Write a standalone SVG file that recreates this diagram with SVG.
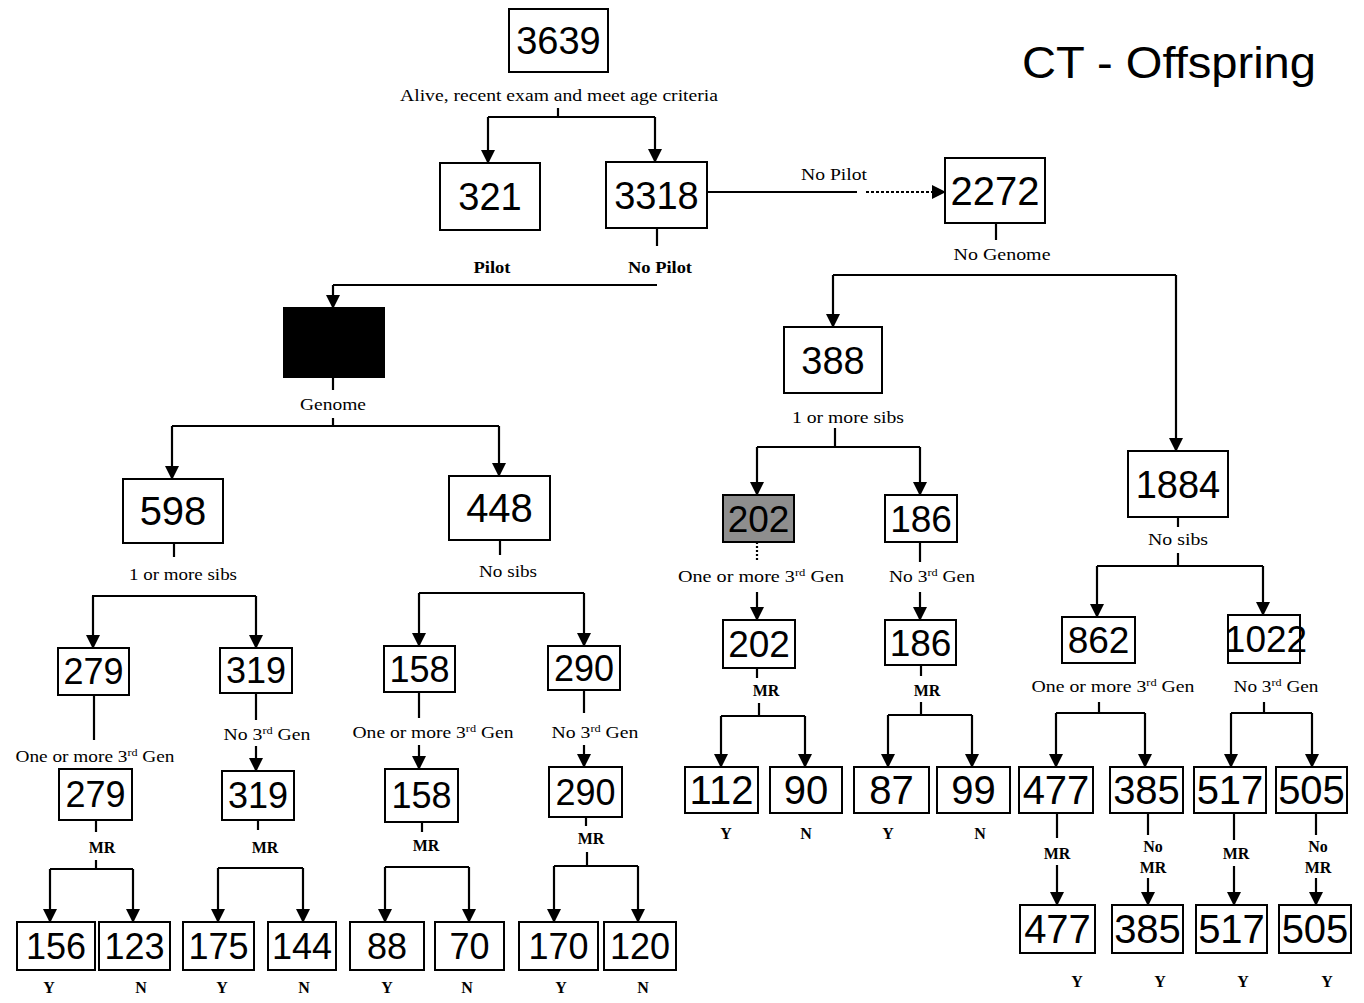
<svg xmlns="http://www.w3.org/2000/svg" width="1364" height="1003" viewBox="0 0 1364 1003">
<style>
.box{fill:#fff;stroke:#000;stroke-width:2}
.num{font-family:"Liberation Sans",Arial,sans-serif;text-anchor:middle;fill:#000}
.f36{font-size:36px}.f38{font-size:38px}.f40{font-size:40px}
.lbl{font-family:"Liberation Serif","Times New Roman",serif;text-anchor:middle;fill:#000;font-size:16px}
.b{font-weight:bold}
.c{stroke:#000;stroke-width:2.2;fill:none}
.a{stroke:#000;stroke-width:2.2;fill:none;marker-end:url(#ah)}
</style>
<defs>
<marker id="ah" markerUnits="userSpaceOnUse" markerWidth="14" markerHeight="14" refX="13" refY="7" orient="auto">
<path d="M0,0 L14,7 L0,14 z" fill="#000"/>
</marker>
</defs>
<rect width="1364" height="1003" fill="#fff"/>
<text x="1022" y="78" font-family="Liberation Sans,Arial,sans-serif" font-size="45" textLength="294" lengthAdjust="spacingAndGlyphs">CT - Offspring</text>

<g id="connectors">
<line class="c" x1="558" y1="108" x2="558" y2="117"/>
<line class="c" x1="488" y1="117" x2="655" y2="117"/>
<line class="a" x1="488" y1="117" x2="488" y2="163"/>
<line class="a" x1="655" y1="117" x2="655" y2="162"/>
<line class="c" x1="707" y1="192" x2="857" y2="192"/>
<line class="a" x1="866" y1="192" x2="945" y2="192" stroke-dasharray="3 2"/>
<line class="c" x1="657" y1="228" x2="657" y2="246"/>
<line class="c" x1="333" y1="285" x2="657" y2="285"/>
<line class="a" x1="333" y1="285" x2="333" y2="308"/>
<line class="c" x1="333" y1="377" x2="333" y2="390"/>
<line class="c" x1="333" y1="418" x2="333" y2="426"/>
<line class="c" x1="172" y1="426" x2="499" y2="426"/>
<line class="a" x1="172" y1="426" x2="172" y2="479"/>
<line class="a" x1="499" y1="426" x2="499" y2="476"/>
<line class="c" x1="174" y1="543" x2="174" y2="557"/>
<line class="c" x1="92" y1="596" x2="256" y2="596"/>
<line class="a" x1="93" y1="596" x2="93" y2="648"/>
<line class="a" x1="256" y1="596" x2="256" y2="648"/>
<line class="c" x1="500" y1="540" x2="500" y2="555"/>
<line class="c" x1="419" y1="593" x2="584" y2="593"/>
<line class="a" x1="419" y1="593" x2="419" y2="646"/>
<line class="a" x1="584" y1="593" x2="584" y2="646"/>
<line class="c" x1="94" y1="695" x2="94" y2="740"/>
<line class="c" x1="256" y1="693" x2="256" y2="720"/>
<line class="a" x1="256" y1="746" x2="256" y2="771"/>
<line class="c" x1="419" y1="692" x2="419" y2="718"/>
<line class="a" x1="419" y1="745" x2="419" y2="769"/>
<line class="c" x1="584" y1="690" x2="584" y2="713"/>
<line class="a" x1="584" y1="745" x2="584" y2="767"/>
<line class="c" x1="96" y1="820" x2="96" y2="832"/>
<line class="c" x1="96" y1="860" x2="96" y2="869"/>
<line class="c" x1="50" y1="869" x2="133" y2="869"/>
<line class="a" x1="50" y1="869" x2="50" y2="922"/>
<line class="a" x1="133" y1="869" x2="133" y2="922"/>
<line class="c" x1="258" y1="820" x2="258" y2="830"/>
<line class="c" x1="218" y1="868" x2="303" y2="868"/>
<line class="a" x1="218" y1="868" x2="218" y2="922"/>
<line class="a" x1="303" y1="868" x2="303" y2="922"/>
<line class="c" x1="422" y1="822" x2="422" y2="832"/>
<line class="c" x1="385" y1="867" x2="469" y2="867"/>
<line class="a" x1="385" y1="867" x2="385" y2="922"/>
<line class="a" x1="469" y1="867" x2="469" y2="922"/>
<line class="c" x1="586" y1="817" x2="586" y2="826"/>
<line class="c" x1="587" y1="852" x2="587" y2="866"/>
<line class="c" x1="554" y1="866" x2="638" y2="866"/>
<line class="a" x1="554" y1="866" x2="554" y2="922"/>
<line class="a" x1="638" y1="866" x2="638" y2="922"/>
<line class="c" x1="996" y1="223" x2="996" y2="240"/>
<line class="c" x1="833" y1="275" x2="1176" y2="275"/>
<line class="a" x1="833" y1="275" x2="833" y2="327"/>
<line class="a" x1="1176" y1="275" x2="1176" y2="451"/>
<line class="c" x1="835" y1="428" x2="835" y2="447"/>
<line class="c" x1="757" y1="447" x2="920" y2="447"/>
<line class="a" x1="757" y1="447" x2="757" y2="495"/>
<line class="a" x1="920" y1="447" x2="920" y2="495"/>
<line class="c" x1="757" y1="542" x2="757" y2="560" stroke-dasharray="2 2"/>
<line class="a" x1="757" y1="592" x2="757" y2="620"/>
<line class="c" x1="920" y1="542" x2="920" y2="562"/>
<line class="a" x1="920" y1="592" x2="920" y2="620"/>
<line class="c" x1="757" y1="668" x2="757" y2="678"/>
<line class="c" x1="759" y1="703" x2="759" y2="716"/>
<line class="c" x1="721" y1="716" x2="805" y2="716"/>
<line class="a" x1="721" y1="716" x2="721" y2="767"/>
<line class="a" x1="805" y1="716" x2="805" y2="767"/>
<line class="c" x1="921" y1="665" x2="921" y2="676"/>
<line class="c" x1="921" y1="702" x2="921" y2="715"/>
<line class="c" x1="888" y1="715" x2="972" y2="715"/>
<line class="a" x1="888" y1="715" x2="888" y2="767"/>
<line class="a" x1="972" y1="715" x2="972" y2="767"/>
<line class="c" x1="1178" y1="517" x2="1178" y2="527"/>
<line class="c" x1="1178" y1="553" x2="1178" y2="566"/>
<line class="c" x1="1097" y1="566" x2="1263" y2="566"/>
<line class="a" x1="1097" y1="566" x2="1097" y2="617"/>
<line class="a" x1="1263" y1="566" x2="1263" y2="615"/>
<line class="c" x1="1099" y1="702" x2="1099" y2="713"/>
<line class="c" x1="1056" y1="713" x2="1145" y2="713"/>
<line class="a" x1="1056" y1="713" x2="1056" y2="767"/>
<line class="a" x1="1145" y1="713" x2="1145" y2="767"/>
<line class="c" x1="1264" y1="702" x2="1264" y2="713"/>
<line class="c" x1="1231" y1="713" x2="1312" y2="713"/>
<line class="a" x1="1231" y1="713" x2="1231" y2="767"/>
<line class="a" x1="1312" y1="713" x2="1312" y2="767"/>
<line class="c" x1="1057" y1="813" x2="1057" y2="838"/>
<line class="a" x1="1057" y1="865" x2="1057" y2="905"/>
<line class="c" x1="1148" y1="813" x2="1148" y2="835"/>
<line class="a" x1="1148" y1="878" x2="1148" y2="905"/>
<line class="c" x1="1234" y1="813" x2="1234" y2="840"/>
<line class="a" x1="1234" y1="866" x2="1234" y2="905"/>
<line class="c" x1="1316" y1="813" x2="1316" y2="835"/>
<line class="a" x1="1316" y1="878" x2="1316" y2="905"/>
</g>

<g id="labels">
<text class="lbl" x="559" y="101" font-size="15" textLength="318" lengthAdjust="spacingAndGlyphs">Alive, recent exam and meet age criteria</text>
<text class="lbl" x="834" y="180" font-size="15" textLength="66" lengthAdjust="spacingAndGlyphs">No Pilot</text>
<text class="lbl b" x="492" y="273" font-size="15" textLength="37" lengthAdjust="spacingAndGlyphs">Pilot</text>
<text class="lbl b" x="660" y="273" font-size="15" textLength="64" lengthAdjust="spacingAndGlyphs">No Pilot</text>
<text class="lbl" x="1002" y="260" textLength="97" lengthAdjust="spacingAndGlyphs">No Genome</text>
<text class="lbl" x="333" y="410" textLength="66" lengthAdjust="spacingAndGlyphs">Genome</text>
<text class="lbl" x="183" y="580" textLength="108" lengthAdjust="spacingAndGlyphs">1 or more sibs</text>
<text class="lbl" x="508" y="577" textLength="58" lengthAdjust="spacingAndGlyphs">No sibs</text>
<text class="lbl" x="848" y="423" textLength="112" lengthAdjust="spacingAndGlyphs">1 or more sibs</text>
<text class="lbl" x="1178" y="545" textLength="60" lengthAdjust="spacingAndGlyphs">No sibs</text>
<text class="lbl" x="95" y="762" textLength="159" lengthAdjust="spacingAndGlyphs">One or more 3<tspan font-size="10" dy="-6">rd</tspan><tspan dy="6"> Gen</tspan></text>
<text class="lbl" x="267" y="740" textLength="87" lengthAdjust="spacingAndGlyphs">No 3<tspan font-size="10" dy="-6">rd</tspan><tspan dy="6"> Gen</tspan></text>
<text class="lbl" x="433" y="738" textLength="161" lengthAdjust="spacingAndGlyphs">One or more 3<tspan font-size="10" dy="-6">rd</tspan><tspan dy="6"> Gen</tspan></text>
<text class="lbl" x="595" y="738" textLength="87" lengthAdjust="spacingAndGlyphs">No 3<tspan font-size="10" dy="-6">rd</tspan><tspan dy="6"> Gen</tspan></text>
<text class="lbl" x="761" y="582" textLength="166" lengthAdjust="spacingAndGlyphs">One or more 3<tspan font-size="10" dy="-6">rd</tspan><tspan dy="6"> Gen</tspan></text>
<text class="lbl" x="932" y="582" textLength="86" lengthAdjust="spacingAndGlyphs">No 3<tspan font-size="10" dy="-6">rd</tspan><tspan dy="6"> Gen</tspan></text>
<text class="lbl" x="1113" y="692" textLength="163" lengthAdjust="spacingAndGlyphs">One or more 3<tspan font-size="10" dy="-6">rd</tspan><tspan dy="6"> Gen</tspan></text>
<text class="lbl" x="1276" y="692" textLength="85" lengthAdjust="spacingAndGlyphs">No 3<tspan font-size="10" dy="-6">rd</tspan><tspan dy="6"> Gen</tspan></text>
<text class="lbl b" x="102" y="853" font-size="15">MR</text>
<text class="lbl b" x="265" y="853" font-size="15">MR</text>
<text class="lbl b" x="426" y="851" font-size="15">MR</text>
<text class="lbl b" x="591" y="844" font-size="15">MR</text>
<text class="lbl b" x="766" y="696" font-size="15">MR</text>
<text class="lbl b" x="927" y="696" font-size="15">MR</text>
<text class="lbl b" x="1057" y="859" font-size="15">MR</text>
<text class="lbl b" x="1153" y="852" font-size="15">No</text>
<text class="lbl b" x="1153" y="873" font-size="15">MR</text>
<text class="lbl b" x="1236" y="859" font-size="15">MR</text>
<text class="lbl b" x="1318" y="852" font-size="15">No</text>
<text class="lbl b" x="1318" y="873" font-size="15">MR</text>
<text class="lbl b" x="49" y="993" font-size="15">Y</text>
<text class="lbl b" x="141" y="993" font-size="15">N</text>
<text class="lbl b" x="222" y="993" font-size="15">Y</text>
<text class="lbl b" x="304" y="993" font-size="15">N</text>
<text class="lbl b" x="387" y="993" font-size="15">Y</text>
<text class="lbl b" x="467" y="993" font-size="15">N</text>
<text class="lbl b" x="561" y="993" font-size="15">Y</text>
<text class="lbl b" x="643" y="993" font-size="15">N</text>
<text class="lbl b" x="726" y="839" font-size="15">Y</text>
<text class="lbl b" x="806" y="839" font-size="15">N</text>
<text class="lbl b" x="888" y="839" font-size="15">Y</text>
<text class="lbl b" x="980" y="839" font-size="15">N</text>
<text class="lbl b" x="1077" y="987" font-size="15">Y</text>
<text class="lbl b" x="1160" y="987" font-size="15">Y</text>
<text class="lbl b" x="1243" y="987" font-size="15">Y</text>
<text class="lbl b" x="1327" y="987" font-size="15">Y</text>
</g>

<g id="n3639"><rect class="box" x="509" y="9" width="99" height="63"/><text class="num f38" x="558.5" y="54">3639</text></g>
<g id="n321"><rect class="box" x="440" y="163" width="100" height="67"/><text class="num f38" x="490" y="210">321</text></g>
<g id="n3318"><rect class="box" x="606" y="162" width="101" height="66"/><text class="num f38" x="656.5" y="209">3318</text></g>
<g id="n2272"><rect class="box" x="945" y="158" width="100" height="65"/><text class="num f40" x="995" y="205">2272</text></g>
<g id="nBlack"><rect x="284" y="308" width="100" height="69" fill="#000" stroke="#000" stroke-width="2"/></g>
<g id="n388"><rect class="box" x="784" y="327" width="98" height="66"/><text class="num f38" x="833" y="374">388</text></g>
<g id="n1884"><rect class="box" x="1128" y="451" width="100" height="66"/><text class="num f38" x="1178" y="498">1884</text></g>
<g id="n598"><rect class="box" x="123" y="479" width="100" height="64"/><text class="num f40" x="173" y="525">598</text></g>
<g id="n448"><rect class="box" x="449" y="476" width="101" height="64"/><text class="num f40" x="499.5" y="522">448</text></g>
<g id="n279a"><rect class="box" x="58" y="648" width="71" height="47"/><text class="num f36" x="93.5" y="684">279</text></g>
<g id="n319a"><rect class="box" x="220" y="648" width="72" height="45"/><text class="num f36" x="256" y="683">319</text></g>
<g id="n158a"><rect class="box" x="384" y="646" width="71" height="46"/><text class="num f36" x="419.5" y="682">158</text></g>
<g id="n290a"><rect class="box" x="548" y="646" width="72" height="44"/><text class="num f36" x="584" y="681">290</text></g>
<g id="n279b"><rect class="box" x="59" y="769" width="73" height="51"/><text class="num f36" x="95.5" y="807">279</text></g>
<g id="n319b"><rect class="box" x="222" y="771" width="72" height="49"/><text class="num f36" x="258" y="808">319</text></g>
<g id="n158b"><rect class="box" x="385" y="769" width="73" height="53"/><text class="num f36" x="421.5" y="808">158</text></g>
<g id="n290b"><rect class="box" x="549" y="767" width="73" height="50"/><text class="num f36" x="585.5" y="805">290</text></g>
<g id="n156"><rect class="box" x="17" y="922" width="78" height="48"/><text class="num f36" x="56" y="959">156</text></g>
<g id="n123"><rect class="box" x="99" y="922" width="71" height="48"/><text class="num f36" x="134.5" y="959">123</text></g>
<g id="n175"><rect class="box" x="183" y="922" width="71" height="48"/><text class="num f36" x="218.5" y="959">175</text></g>
<g id="n144"><rect class="box" x="268" y="922" width="68" height="48"/><text class="num f36" x="302" y="959">144</text></g>
<g id="n88"><rect class="box" x="350" y="922" width="74" height="48"/><text class="num f36" x="387" y="959">88</text></g>
<g id="n70"><rect class="box" x="435" y="922" width="69" height="48"/><text class="num f36" x="469.5" y="959">70</text></g>
<g id="n170"><rect class="box" x="519" y="922" width="79" height="48"/><text class="num f36" x="558.5" y="959">170</text></g>
<g id="n120"><rect class="box" x="604" y="922" width="72" height="48"/><text class="num f36" x="640" y="959">120</text></g>
<g id="n202a"><rect x="723" y="495" width="71" height="47" fill="#8e8e8e" stroke="#000" stroke-width="2"/><text class="num" font-size="37" x="758.5" y="532">202</text></g>
<g id="n186a"><rect class="box" x="885" y="495" width="72" height="47"/><text class="num" font-size="37" x="921" y="532">186</text></g>
<g id="n202b"><rect class="box" x="723" y="620" width="72" height="48"/><text class="num" font-size="37" x="759" y="657">202</text></g>
<g id="n186b"><rect class="box" x="885" y="620" width="71" height="45"/><text class="num" font-size="37" x="920.5" y="656">186</text></g>
<g id="n862"><rect class="box" x="1062" y="617" width="73" height="46"/><text class="num" font-size="37" x="1098.5" y="653">862</text></g>
<g id="n1022"><rect class="box" x="1228" y="615" width="72" height="48"/><text class="num" font-size="37" x="1266" y="652">1022</text></g>
<g id="n112"><rect class="box" x="685" y="767" width="73" height="46"/><text class="num f40" x="721.5" y="804">112</text></g>
<g id="n90"><rect class="box" x="770" y="767" width="72" height="46"/><text class="num f40" x="806" y="804">90</text></g>
<g id="n87"><rect class="box" x="854" y="767" width="75" height="46"/><text class="num f40" x="891.5" y="804">87</text></g>
<g id="n99"><rect class="box" x="937" y="767" width="73" height="46"/><text class="num f40" x="973.5" y="804">99</text></g>
<g id="n477a"><rect class="box" x="1019" y="767" width="74" height="46"/><text class="num f40" x="1056" y="804">477</text></g>
<g id="n385a"><rect class="box" x="1110" y="767" width="73" height="46"/><text class="num f40" x="1146.5" y="804">385</text></g>
<g id="n517a"><rect class="box" x="1194" y="767" width="72" height="46"/><text class="num f40" x="1230" y="804">517</text></g>
<g id="n505a"><rect class="box" x="1276" y="767" width="71" height="46"/><text class="num f40" x="1311.5" y="804">505</text></g>
<g id="n477b"><rect class="box" x="1020" y="905" width="75" height="48"/><text class="num f40" x="1057.5" y="943">477</text></g>
<g id="n385b"><rect class="box" x="1112" y="905" width="71" height="48"/><text class="num f40" x="1147.5" y="943">385</text></g>
<g id="n517b"><rect class="box" x="1196" y="905" width="71" height="48"/><text class="num f40" x="1231.5" y="943">517</text></g>
<g id="n505b"><rect class="box" x="1279" y="905" width="72" height="48"/><text class="num f40" x="1315" y="943">505</text></g>
</svg>
